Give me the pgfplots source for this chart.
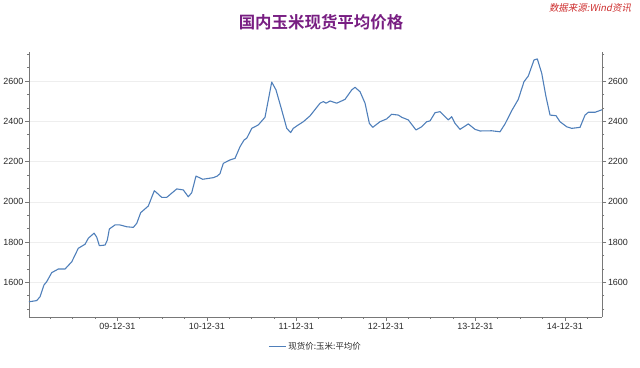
\documentclass[border=0pt]{standalone}
\usepackage{pgfplots}
\pgfplotsset{compat=1.18}
\usepackage{fontspec}
\setmainfont{Liberation Sans}
\newfontfamily\cjk{Noto Sans CJK SC}
\newfontfamily\cjkb{Noto Sans CJK SC Bold}
\newfontfamily\cjkit[FakeSlant=0.2]{Noto Sans CJK SC}
\definecolor{linecol}{RGB}{79,127,186}
\definecolor{titlecol}{RGB}{120,30,130}
\definecolor{srccol}{RGB}{205,45,45}
\definecolor{axcol}{RGB}{120,120,120}
\definecolor{gridcol}{RGB}{238,238,238}
\definecolor{txtcol}{RGB}{40,40,40}
\begin{document}
\begin{tikzpicture}
\path (0,0) rectangle (640bp,368bp);
\pgfplotsset{
  common/.style={
    at={(29bp,51bp)}, anchor=south west, scale only axis,
    width=573.3bp, height=265bp,
    xmin=2009.013, xmax=2015.419, ymin=1427.5, ymax=2744.5,
    tick align=outside,
    major tick length=4bp, minor tick length=2bp,
    every tick/.style={axcol, line width=0.6pt},
    every minor tick/.style={axcol, line width=0.6pt},
    axis line style={axcol, line width=0.8pt},
    ytick={1600,1800,2000,2200,2400,2600},
    minor ytick={1466.667,1533.333,1666.667,1733.333,1866.667,1933.333,2066.667,2133.333,2266.667,2333.333,2466.667,2533.333,2666.667,2733.333},
    ticklabel style={font=\fontsize{9}{10}\selectfont, text=txtcol},
    /pgf/number format/assume math mode=true,
    /pgf/number format/1000 sep={},
    yticklabel style={inner sep=1.5bp},
  }
}
\begin{axis}[common,
    axis x line*=bottom, axis y line*=left,
    xtick={2010,2011,2012,2013,2014,2015},
    xticklabels={09-12-31,10-12-31,11-12-31,12-12-31,13-12-31,14-12-31},
    minor xtick={2009.25,2009.5,2009.75,2010.25,2010.5,2010.75,2011.25,2011.5,2011.75,2012.25,2012.5,2012.75,2013.25,2013.5,2013.75,2014.25,2014.5,2014.75,2015.25},
    xticklabel style={inner sep=2bp},
    ymajorgrids, grid style={gridcol, line width=0.6pt},
    legend style={at={(0.5,-0.112)}, anchor=center, draw=none, fill=none,
      font=\cjk\fontsize{8.5}{10}\selectfont, text=txtcol, inner sep=1pt},
    legend image code/.code={\draw[#1] (0bp,0bp) -- (17bp,0bp);},
  ]
\addplot[linecol, line width=1.1pt, line join=round] coordinates {
(2009.013,1504) (2009.025,1504) (2009.099,1509) (2009.136,1528) (2009.181,1587) (2009.211,1603)
(2009.267,1648) (2009.341,1666) (2009.416,1666) (2009.491,1702) (2009.564,1769)
(2009.639,1789) (2009.676,1819) (2009.740,1844) (2009.770,1824) (2009.799,1782)
(2009.863,1785) (2009.888,1810) (2009.911,1865) (2009.974,1885) (2010.030,1885)
(2010.105,1876) (2010.179,1873) (2010.217,1893) (2010.261,1946) (2010.346,1979)
(2010.413,2055) (2010.440,2045) (2010.496,2022) (2010.552,2022) (2010.664,2064)
(2010.737,2059) (2010.793,2025) (2010.831,2045) (2010.879,2128) (2010.954,2112)
(2011.073,2120) (2011.117,2128) (2011.147,2140) (2011.184,2191) (2011.259,2208)
(2011.315,2216) (2011.371,2274) (2011.416,2307) (2011.446,2316) (2011.502,2365)
(2011.575,2382) (2011.650,2420) (2011.687,2506) (2011.725,2595) (2011.773,2556)
(2011.837,2456) (2011.893,2365) (2011.937,2344) (2011.966,2365) (2012.022,2382)
(2012.078,2398) (2012.153,2427) (2012.265,2490) (2012.302,2498) (2012.332,2490)
(2012.377,2501) (2012.451,2490) (2012.544,2509) (2012.619,2556) (2012.656,2569)
(2012.712,2547) (2012.768,2490) (2012.816,2390) (2012.854,2370) (2012.935,2398)
(2013.010,2412) (2013.066,2435) (2013.140,2431) (2013.178,2420) (2013.251,2407)
(2013.337,2357) (2013.401,2373) (2013.457,2398) (2013.494,2402) (2013.550,2443)
(2013.606,2448) (2013.643,2431) (2013.698,2407) (2013.736,2423) (2013.773,2390)
(2013.829,2360) (2013.922,2387) (2013.997,2360) (2014.053,2352) (2014.183,2353)
(2014.276,2348) (2014.332,2387) (2014.407,2453) (2014.480,2509) (2014.544,2597)
(2014.592,2625) (2014.656,2705) (2014.693,2710) (2014.742,2639) (2014.790,2522)
(2014.835,2431) (2014.902,2428) (2014.946,2398) (2015.021,2373) (2015.077,2365)
(2015.170,2370) (2015.226,2431) (2015.263,2445) (2015.338,2445) (2015.419,2458)
};
\addlegendentry{现货价:玉米:平均价}
\end{axis}
\begin{axis}[common,
    axis y line*=right, axis x line=none,
    yticklabel pos=right,
  ]
\end{axis}
\node[font=\cjkb\fontsize{16.5}{18}\selectfont, text=titlecol] at (321bp,346bp) {国内玉米现货平均价格};
\node[font=\cjkit\fontsize{9.5}{11}\selectfont, text=srccol] at (590bp,360bp) {数据来源:Wind资讯};
\end{tikzpicture}
\end{document}
